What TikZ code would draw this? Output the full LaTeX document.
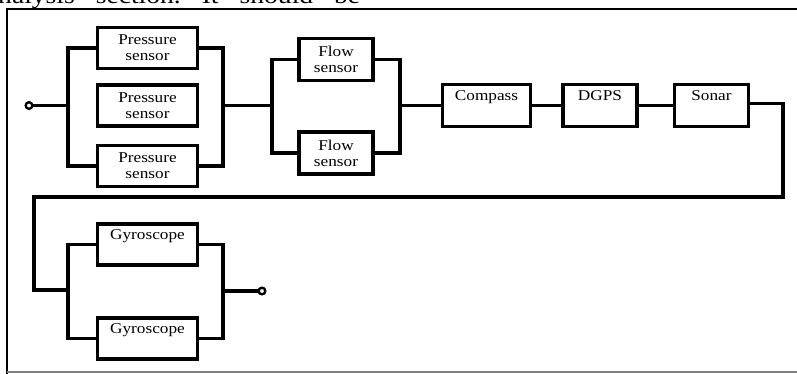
\documentclass[tikz,border=0pt]{standalone}
\usepackage{fontspec}
\setmainfont{Liberation Serif}[FakeStretch=1.15]
\usetikzlibrary{positioning, shapes}

\begin{document}
\begin{tikzpicture}[x=1pt,y=-1pt]

\useasboundingbox (0,0) rectangle (797,373);
\clip (0,0) rectangle (797,373);

% \draw[help lines] (0,0) grid (797,373);

\tikzstyle{sbox1}=[draw=black, line width=3.2pt, shape=rectangle, inner sep=0pt,
minimum width=100pt, minimum height=41pt, align=center, font=\fontsize{15}{16}\selectfont];
\tikzstyle{sbox2}=[draw=black, line width=3.2pt, shape=rectangle, inner sep=0pt,
minimum width=74pt, minimum height=42pt, align=center, font=\fontsize{15}{16}\selectfont];
\tikzstyle{sbox3}=[draw=black, line width=3.2pt, shape=rectangle, inner sep=0pt,
minimum width=88pt, minimum height=42pt, align=center, font=\fontsize{15}{16}\selectfont];
\tikzstyle{term}=[draw=black, line width=2.2pt, shape=circle, inner sep=0pt,
minimum size=6.5pt, fill=white];
\tikzstyle{wire}=[line width=3.2pt];

% text cut off at the top
\node[anchor=base west, inner sep=0pt] (top) at (-2,3) {\fontsize{24}{24}\selectfont\hbox to 362pt{nalysis\hfill section.\hfill It\hfill should\hfill be}};

% frame
\draw[line width=2.6pt] (800,9) -- (7,9) -- (7,376);
\draw[gray, line width=1.5pt] (7,372) -- (800,372);

\node[sbox1] (p1) at (147.5,48) {Pressure\\sensor};
\node[sbox1] (p2) at (147.5,105.5) {Pressure\\sensor};
\node[sbox1] (p3) at (147.5,166) {Pressure\\sensor};
\node[sbox2] (f1) at (336,59.5) {Flow\\sensor};
\node[sbox2] (f2) at (336,153) {Flow\\sensor};
\node[sbox3] (c1) at (486.5,105.5) {Compass\\[4pt]};
\node[sbox2] (d1) at (600,105.5) {DGPS\\[4pt]};
\node[sbox2] (s1) at (711.5,105.5) {Sonar\\[4pt]};
\node[sbox1] (g1) at (147.5,244.5) {Gyroscope\\[4pt]};
\node[sbox1] (g2) at (147.5,338.5) {Gyroscope\\[4pt]};

\node[term] (in) at (29,105.5) {};
\node[term] (out) at (262,291) {};

\coordinate (j1) at (68,105.5);
\coordinate (j2) at (223,105.5);
\coordinate (j3) at (272,105.5);
\coordinate (j4) at (400,105.5);
\coordinate (r1) at (783,197);
\coordinate (r2) at (34,197);
\coordinate (j5) at (68,290);
\coordinate (j6) at (223,291);

% lines
\draw[wire] (in) -- (j1);
\draw[wire] (p1.west) -| (j1) |- (p3.west);
\draw[wire] (p1.east) -| (j2) |- (p3.east);
\draw[wire] (j2) -- (j3);
\draw[wire] (f1.west) -| (j3) |- (f2.west);
\draw[wire] (f1.east) -| (j4) |- (f2.east);
\draw[wire] (j4) -- (c1.west);
\draw[wire] (c1.east) -- (d1.west);
\draw[wire] (d1.east) -- (s1.west);
\draw[wire] ([yshift=2pt]s1.east) -| (r1) -- (r2) |- (j5);
\draw[wire] (g1.west) -| (j5) |- (g2.west);
\draw[wire] (g1.east) -| (j6) |- (g2.east);
\draw[wire] (j6) -- (out);

\node[term] at (in) {};
\node[term] at (out) {};

\end{tikzpicture}
\end{document}
